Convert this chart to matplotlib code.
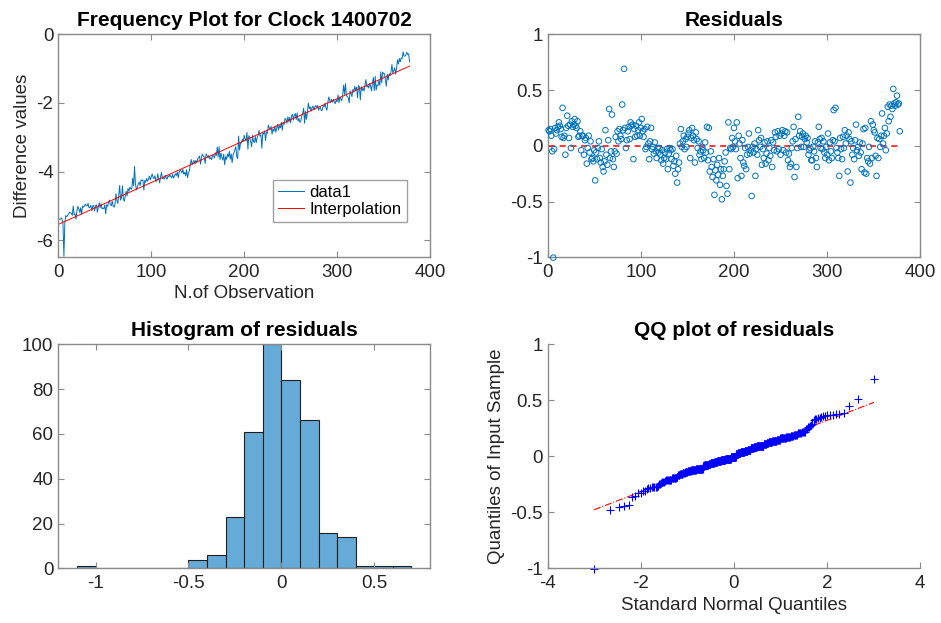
import numpy as np
import matplotlib
matplotlib.use('Agg')
import matplotlib.pyplot as plt
from matplotlib.ticker import FuncFormatter
from statistics import NormalDist

# ---------------- data ----------------
residuals = [
    0.14, 0.13, 0.15, 0.09, -0.05, -1.003, -0.03, 0.16, 0.11, 0.14,
    0.17, 0.21, 0.18, 0.15, 0.08, 0.34, 0.07, 0.09, -0.08, 0.16,
    0.27, 0.18, 0.07, 0.19, -0.02, 0.22, 0.17, 0.19, 0.24, 0.18,
    0.16, 0.22, 0.08, 0.09, 0.13, -0.04, 0.09, 0.09, -0.08, 0.05,
    0.07, -0.16, -0.02, 0.09, -0.06, 0.04, -0.12, -0.11, -0.14, -0.04,
    -0.31, -0.06, -0.12, -0.02, 0.04, -0.11, -0.15, -0.03, -0.19, -0.23,
    -0.14, 0.14, -0.08, -0.17, 0.05, 0.33, -0.11, -0.05, 0.28, -0.12,
    -0.19, -0.05, 0.08, -0.07, 0.13, 0.04, 0.15, 0.09, 0.06, 0.37,
    0.14, 0.69, 0.16, -0.02, 0.05, 0.13, 0.17, 0.06, 0.21, 0.18,
    0.19, -0.12, 0.15, 0.08, 0.18, 0.09, 0.14, 0.21, 0.09, 0.16,
    0.24, 0.13, 0.08, 0.15, -0.03, -0.01, 0.17, 0.02, -0.12, 0.04,
    0.16, -0.03, -0.01, -0.07, 0.03, -0.05, -0.11, -0.02, -0.06, -0.02,
    -0.08, -0.13, -0.04, -0.16, -0.11, -0.06, -0.12, -0.03, -0.21, -0.07,
    -0.02, -0.04, -0.12, -0.03, -0.18, -0.14, -0.25, -0.09, -0.33, -0.21,
    -0.15, 0.02, 0.15, -0.01, 0.04, 0.09, -0.03, 0.06, -0.01, 0.08,
    0.11, 0.14, -0.11, 0.07, 0.16, 0.09, 0.05, -0.15, 0.12, 0.06,
    -0.02, 0.04, -0.08, -0.05, -0.12, -0.01, -0.04, -0.11, 0.03, -0.06,
    0.17, -0.13, 0.16, -0.23, -0.05, -0.19, -0.28, -0.12, -0.44, -0.22,
    -0.31, -0.17, -0.26, -0.11, -0.35, -0.21, -0.48, -0.27, -0.21, -0.14,
    -0.06, -0.36, -0.43, 0.21, -0.21, -0.02, -0.03, 0.07, -0.01, 0.16,
    0.04, -0.03, 0.21, -0.29, 0.09, 0.02, -0.11, -0.27, 0.05, -0.15,
    -0.18, -0.02, -0.21, -0.08, -0.01, 0.11, -0.07, -0.04, -0.45, -0.01,
    -0.06, 0.02, -0.27, -0.03, -0.08, 0.14, 0.05, -0.01, 0.07, -0.17,
    -0.03, -0.11, 0.03, -0.16, -0.07, 0.04, -0.13, -0.02, -0.09, 0.05,
    -0.19, 0.03, -0.04, 0.12, 0.08, -0.05, 0.13, -0.03, 0.09, -0.08,
    0.11, 0.14, -0.04, 0.09, 0.13, -0.06, 0.12, -0.13, -0.07, -0.19,
    -0.16, -0.02, 0.04, 0.17, -0.28, 0.06, -0.19, -0.02, 0.26, 0.09,
    0.13, -0.01, 0.08, 0.11, -0.01, 0.06, 0.09, 0.03, 0.07, -0.08,
    -0.04, -0.02, -0.13, -0.13, -0.01, -0.05, 0.04, -0.11, -0.19, 0.03,
    0.17, 0.06, -0.02, 0.07, -0.03, 0.04, -0.06, -0.11, -0.01, -0.08,
    0.11, -0.13, 0.03, -0.05, -0.11, 0.05, 0.32, 0.04, 0.34, -0.02,
    -0.06, -0.11, -0.27, 0.07, -0.03, -0.12, 0.08, -0.02, 0.14, 0.02,
    0.09, -0.23, 0.12, 0.06, -0.33, 0.04, -0.08, -0.02, -0.12, 0.05,
    0.19, -0.04, -0.01, -0.09, 0.03, -0.06, -0.21, 0.02, 0.15, -0.24,
    0.16, -0.25, -0.11, -0.14, -0.01, -0.16, 0.22, -0.11, 0.19, 0.14,
    0.12, -0.09, -0.27, 0.07, -0.11, 0.06, -0.01, 0.09, 0.29, 0.02,
    0.09, 0.16, -0.04, 0.11, 0.35, 0.22, 0.37, 0.26, 0.36, 0.33,
    0.51, 0.38, 0.36, 0.39, 0.45, 0.37, 0.38, 0.13,
]
trend_intercept = -5.54      # trend value at observation 0
trend_slope = 0.01217        # per observation
hist_edges = [-1.1, -1.0, -0.9, -0.8, -0.7, -0.6, -0.5, -0.4, -0.3, -0.2,
              -0.1, 0.0, 0.1, 0.2, 0.3, 0.4, 0.5, 0.6, 0.7]

titles = ["Frequency Plot for Clock 1400702", "Residuals",
          "Histogram of residuals", "QQ plot of residuals"]
legend_labels = ["data1", "Interpolation"]

# ---------------- derived ----------------
resid = np.array(residuals)
n = len(resid)
obs = np.arange(1, n + 1)
data1 = np.polyval([trend_slope, trend_intercept], obs) + resid
coef = np.polyfit(obs, data1, 1)
fit_line = np.polyval(coef, obs)

# ---------------- style ----------------
plt.rcParams['font.family'] = ['Liberation Sans', 'DejaVu Sans']
plt.rcParams['axes.unicode_minus'] = False
TICK = 13.5
LAB = 13.5
TIT = 15
SPINE = '#8a8a8a'
TXT = '#262626'
MBLUE = '#0072BD'

fig = plt.figure(figsize=(9.41, 6.23), dpi=100)
ax1 = fig.add_axes([0.062, 0.587, 0.395, 0.358])
ax2 = fig.add_axes([0.582, 0.587, 0.396, 0.358])
ax3 = fig.add_axes([0.062, 0.0875, 0.395, 0.36])
ax4 = fig.add_axes([0.582, 0.0875, 0.396, 0.36])

gfmt = FuncFormatter(lambda v, p: ('%g' % round(v, 6)))


def style(ax, box=True):
    for s in ax.spines.values():
        s.set_color(SPINE)
        s.set_linewidth(1.0)
    if not box:
        ax.spines['top'].set_visible(False)
        ax.spines['right'].set_visible(False)
    ax.tick_params(direction='in', length=4, width=0.8, color=SPINE,
                   labelsize=TICK, labelcolor=TXT, top=box, right=box)
    ax.tick_params(axis='x', pad=5)
    ax.tick_params(axis='y', pad=3.5)
    ax.xaxis.set_major_formatter(gfmt)
    ax.yaxis.set_major_formatter(gfmt)


# --- frequency plot
ax1.plot(obs, data1, color=MBLUE, lw=0.7, label=legend_labels[0])
ax1.plot(obs, fit_line, color='#ff0000', lw=0.7, label=legend_labels[1])
ax1.set_xlim(0, 400)
ax1.set_ylim(-6.5, 0)
ax1.set_xticks([0, 100, 200, 300, 400])
ax1.set_yticks([-6, -4, -2, 0])
style(ax1)
ax1.set_title(titles[0], fontsize=TIT, fontweight='bold', pad=6)
ax1.set_xlabel("N.of Observation", fontsize=LAB, color=TXT, labelpad=3)
ax1.set_ylabel("Difference values", fontsize=LAB, color=TXT, labelpad=4)
leg = ax1.legend(loc='lower right', bbox_to_anchor=(0.937, 0.158),
                 fontsize=12, frameon=True, fancybox=False, handlelength=1.6,
                 handletextpad=0.3, borderpad=0.3, labelspacing=0.15,
                 borderaxespad=0)
leg.get_frame().set_edgecolor(SPINE)
leg.get_frame().set_linewidth(1.0)

# --- residuals
ax2.scatter(obs, resid, s=16, facecolors='none', edgecolors=MBLUE,
            linewidths=0.7, zorder=3, clip_on=False)
ax2.plot(obs, np.zeros(n), color='#ff0000', lw=1.1, ls=(0, (4, 3)), zorder=2)
ax2.set_xlim(0, 400)
ax2.set_ylim(-1, 1)
ax2.set_xticks([0, 100, 200, 300, 400])
ax2.set_yticks([-1, -0.5, 0, 0.5, 1])
style(ax2)
ax2.set_title(titles[1], fontsize=TIT, fontweight='bold', pad=6)

# --- histogram
ax3.hist(resid, bins=hist_edges, color='#66aad7',
         edgecolor='#1f1f1f', linewidth=0.8)
ax3.set_xlim(-1.2, 0.8)
ax3.set_ylim(0, 100)
ax3.set_xticks([-1, -0.5, 0, 0.5])
ax3.set_yticks([0, 20, 40, 60, 80, 100])
style(ax3)
ax3.set_title(titles[2], fontsize=TIT, fontweight='bold', pad=6)

# --- QQ plot
srt = np.sort(resid)
nd = NormalDist()
qx = np.array([nd.inv_cdf((i - 0.5) / n) for i in range(1, n + 1)])
q1y, q3y = np.percentile(resid, [25, 75])
q1x, q3x = nd.inv_cdf(0.25), nd.inv_cdf(0.75)
slope = (q3y - q1y) / (q3x - q1x)
xl = np.array([qx.min(), qx.max()])
yl = q1y + slope * (xl - q1x)
ax4.plot(xl, yl, color='#ff0000', lw=0.8, ls='-.')
ax4.plot(qx, srt, ls='none', marker='+', color='#0000ff', ms=6, mew=0.8,
         clip_on=False)
ax4.set_xlim(-4, 4)
ax4.set_ylim(-1, 1)
ax4.set_xticks([-4, -2, 0, 2, 4])
ax4.set_yticks([-1, -0.5, 0, 0.5, 1])
style(ax4, box=False)
ax4.set_title(titles[3], fontsize=TIT, fontweight='bold', pad=6)
ax4.set_xlabel("Standard Normal Quantiles", fontsize=LAB, color=TXT, labelpad=3)
ax4.set_ylabel("Quantiles of Input Sample", fontsize=LAB, color=TXT, labelpad=4)

fig.savefig('out.png', dpi=100)
